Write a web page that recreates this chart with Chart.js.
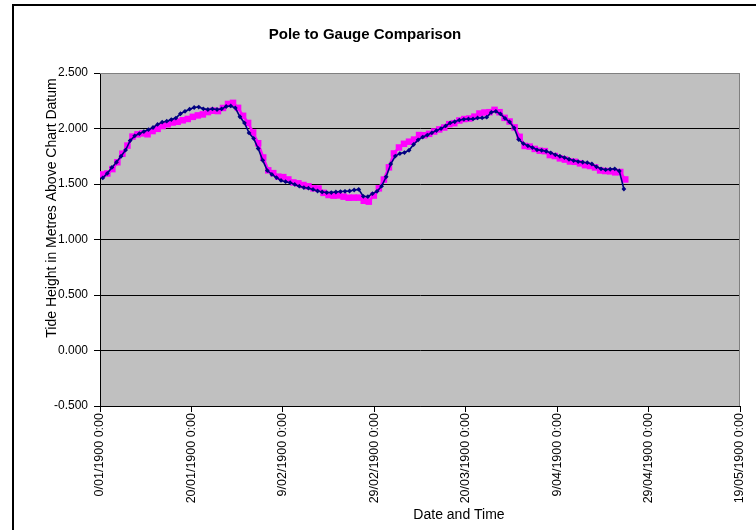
<!DOCTYPE html>
<html>
<head>
<meta charset="utf-8">
<script src="https://cdn.jsdelivr.net/npm/chart.js@4/dist/chart.umd.min.js"></script>
<style>
  html, body { margin: 0; padding: 0; background: #ffffff; }
  #wrap { width: 756px; height: 530px; }
</style>
</head>
<body>
<div id="wrap"><canvas id="tideChart" width="756" height="530"></canvas></div>
<script>
// Text
const chartTitle = 'Pole to Gauge Comparison';
const yAxisTitle = 'Tide Height in Metres Above Chart Datum';
const xAxisTitle = 'Date and Time';

// X axis: Excel serial days, labelled every 20 days
const xTickLabels = [
  '0/01/1900 0:00', '20/01/1900 0:00', '9/02/1900 0:00', '29/02/1900 0:00',
  '20/03/1900 0:00', '9/04/1900 0:00', '29/04/1900 0:00', '19/05/1900 0:00'
];

// Tide pole readings (serial day, metres above chart datum)
const poleDays = [
  0.6, 1.6, 2.6, 3.6, 4.6, 5.6, 6.6, 7.6, 8.6, 9.6,
  10.6, 11.6, 12.6, 13.6, 14.6, 15.6, 16.6, 17.6, 18.6, 19.6,
  20.6, 21.6, 22.6, 23.6, 24.6, 25.6, 26.6, 27.6, 28.6, 29.6,
  30.6, 31.6, 32.6, 33.6, 34.6, 35.6, 36.6, 37.6, 38.6, 39.6,
  40.6, 41.6, 42.6, 43.6, 44.6, 45.6, 46.6, 47.6, 48.6, 49.6,
  50.6, 51.6, 52.6, 53.6, 54.6, 55.6, 56.6, 57.6, 58.6, 59.6,
  60.6, 61.6, 62.6, 63.6, 64.6, 65.6, 66.6, 67.6, 68.6, 69.6,
  70.6, 71.6, 72.6, 73.6, 74.6, 75.6, 76.6, 77.6, 78.6, 79.6,
  80.6, 81.6, 82.6, 83.6, 84.6, 85.6, 86.6, 87.6, 88.6, 89.6,
  90.6, 91.6, 92.6, 93.6, 94.6, 95.6, 96.6, 97.6, 98.6, 99.6,
  100.6, 101.6, 102.6, 103.6, 104.6, 105.6, 106.6, 107.6, 108.6, 109.6,
  110.6, 111.6, 112.6, 113.6, 114.6
];
const poleHeights = [
  1.555, 1.596, 1.649, 1.696, 1.750, 1.806, 1.891, 1.934, 1.953, 1.972,
  1.989, 2.009, 2.037, 2.057, 2.066, 2.080, 2.094, 2.133, 2.155, 2.174,
  2.189, 2.193, 2.177, 2.171, 2.176, 2.171, 2.176, 2.198, 2.203, 2.185,
  2.106, 2.050, 1.960, 1.911, 1.820, 1.713, 1.621, 1.586, 1.558, 1.532,
  1.521, 1.512, 1.496, 1.480, 1.468, 1.462, 1.451, 1.437, 1.428, 1.423,
  1.423, 1.428, 1.432, 1.434, 1.437, 1.446, 1.451, 1.389, 1.386, 1.413,
  1.434, 1.480, 1.565, 1.680, 1.752, 1.774, 1.783, 1.804, 1.856, 1.898,
  1.923, 1.941, 1.961, 1.981, 1.999, 2.023, 2.050, 2.061, 2.076, 2.083,
  2.086, 2.086, 2.095, 2.096, 2.102, 2.146, 2.155, 2.131, 2.092, 2.059,
  2.005, 1.900, 1.864, 1.844, 1.828, 1.808, 1.803, 1.795, 1.781, 1.763,
  1.750, 1.738, 1.723, 1.711, 1.702, 1.696, 1.692, 1.680, 1.655, 1.637,
  1.629, 1.633, 1.637, 1.617, 1.455
];

// Tide gauge record (serial day, metres above chart datum)
const gaugeDays = [
  0.5, 1.6, 2.7, 3.8, 4.9, 6.0, 7.1, 8.2, 9.3, 10.4,
  11.5, 12.6, 13.7, 14.8, 15.9, 17.0, 18.1, 19.2, 20.3, 21.4,
  22.5, 23.6, 24.7, 25.8, 26.9, 28.0, 29.1, 30.2, 31.3, 32.4,
  33.5, 34.6, 35.7, 36.8, 37.9, 39.0, 40.1, 41.2, 42.3, 43.4,
  44.5, 45.6, 46.7, 47.8, 48.9, 50.0, 51.1, 52.2, 53.3, 54.4,
  55.5, 56.6, 57.7, 58.8, 59.9, 61.0, 62.1, 63.2, 64.3, 65.4,
  66.5, 67.6, 68.7, 69.8, 70.9, 72.0, 73.1, 74.2, 75.3, 76.4,
  77.5, 78.6, 79.7, 80.8, 81.9, 83.0, 84.1, 85.2, 86.3, 87.4,
  88.5, 89.6, 90.7, 91.8, 92.9, 94.0, 95.1, 96.2, 97.3, 98.4,
  99.5, 100.6, 101.7, 102.8, 103.9, 105.0, 106.1, 107.2, 108.3, 109.4,
  110.5, 111.6, 112.7, 113.8, 114.9
];
const gaugeHeights = [
  1.586, 1.595, 1.634, 1.696, 1.773, 1.846, 1.927, 1.947, 1.956, 1.948,
  1.977, 1.997, 2.022, 2.038, 2.054, 2.061, 2.074, 2.086, 2.105, 2.118,
  2.127, 2.148, 2.160, 2.157, 2.185, 2.221, 2.231, 2.186, 2.114, 2.050,
  1.964, 1.867, 1.739, 1.623, 1.598, 1.566, 1.562, 1.541, 1.514, 1.506,
  1.491, 1.479, 1.461, 1.459, 1.420, 1.401, 1.395, 1.397, 1.386, 1.376,
  1.377, 1.377, 1.349, 1.341, 1.396, 1.461, 1.540, 1.650, 1.775, 1.829,
  1.862, 1.881, 1.900, 1.941, 1.939, 1.952, 1.973, 1.992, 2.009, 2.039,
  2.048, 2.072, 2.085, 2.090, 2.107, 2.135, 2.144, 2.147, 2.168, 2.147,
  2.096, 2.063, 2.010, 1.925, 1.843, 1.837, 1.816, 1.800, 1.796, 1.761,
  1.752, 1.731, 1.720, 1.703, 1.700, 1.686, 1.670, 1.662, 1.649, 1.622,
  1.617, 1.614, 1.605, 1.608, 1.541
];

const toPoints = (xs, ys) => ys.map((y, i) => ({ x: xs[i], y: y }));

const FONT = '"Liberation Sans", Arial, sans-serif';

// Grey plot area, outer frame and the free-standing titles
const excelFrame = {
  id: 'excelFrame',
  beforeDraw(chart) {
    const { ctx, chartArea: a } = chart;
    ctx.save();
    ctx.fillStyle = '#ffffff';
    ctx.fillRect(0, 0, chart.width, chart.height);
    ctx.fillStyle = '#c0c0c0';
    ctx.fillRect(a.left, a.top, a.right - a.left, a.bottom - a.top);
    ctx.restore();
  },
  beforeDatasetsDraw(chart) {
    const { ctx, chartArea: a } = chart;
    ctx.save();
    ctx.strokeStyle = '#808080';
    ctx.lineWidth = 1;
    ctx.beginPath();
    ctx.moveTo(a.left, a.top + 0.5);
    ctx.lineTo(a.right - 0.5, a.top + 0.5);
    ctx.lineTo(a.right - 0.5, a.bottom);
    ctx.stroke();
    ctx.restore();
  },
  afterDraw(chart) {
    const { ctx } = chart;
    ctx.save();
    // outer chart frame
    ctx.strokeStyle = '#000000';
    ctx.lineWidth = 2;
    ctx.strokeRect(13, 5, 800, 600);
    ctx.fillStyle = '#000000';
    ctx.textAlign = 'center';
    ctx.textBaseline = 'middle';
    ctx.font = 'bold 15px ' + FONT;
    ctx.fillText(chartTitle, 365, 35);
    ctx.font = '14px ' + FONT;
    ctx.fillText(xAxisTitle, 459, 515);
    ctx.translate(52, 208);
    ctx.rotate(-Math.PI / 2);
    ctx.fillText(yAxisTitle, 0, 0);
    ctx.restore();
  }
};

new Chart(document.getElementById('tideChart'), {
  type: 'line',
  data: {
    datasets: [
      {
        label: 'Tide Pole',
        data: toPoints(poleDays, poleHeights),
        order: 0,
        borderColor: '#000080',
        backgroundColor: '#000080',
        borderWidth: 1.6,
        pointStyle: 'rectRot',
        pointRadius: 2.4,
        pointBorderWidth: 0,
        pointBackgroundColor: '#000080',
        tension: 0
      },
      {
        label: 'Tide Gauge',
        data: toPoints(gaugeDays, gaugeHeights),
        order: 1,
        borderColor: '#ff00ff',
        backgroundColor: '#ff00ff',
        borderWidth: 2.6,
        pointStyle: 'rect',
        pointRadius: 4.6,
        pointBorderWidth: 0,
        pointBackgroundColor: '#ff00ff',
        tension: 0
      }
    ]
  },
  options: {
    responsive: false,
    animation: false,
    devicePixelRatio: 1,
    layout: { padding: { top: 73, left: 0, right: 13, bottom: 0 } },
    plugins: {
      legend: { display: false },
      title: { display: false },
      tooltip: { enabled: false }
    },
    scales: {
      x: {
        type: 'linear',
        min: 0,
        max: 140,
        afterFit(scale) { scale.height = 124; },
        border: { color: '#000000', width: 1 },
        grid: { drawOnChartArea: false, drawTicks: true, tickLength: 6, color: '#000000' },
        ticks: {
          stepSize: 20,
          minRotation: 90,
          maxRotation: 90,
          autoSkip: false,
          padding: 1,
          color: '#000000',
          font: { family: FONT, size: 12.5 },
          callback: (v) => xTickLabels[Math.round(v / 20)]
        }
      },
      y: {
        min: -0.5,
        max: 2.5,
        afterFit(scale) { scale.width = 100; },
        border: { color: '#000000', width: 1 },
        grid: {
          color: (c) => (c.tick && c.tick.value === 2.5 ? '#808080' : '#000000'),
          tickColor: '#000000',
          tickLength: 6,
          lineWidth: 1
        },
        ticks: {
          stepSize: 0.5,
          padding: 6,
          color: '#000000',
          font: { family: FONT, size: 12 },
          callback: (v) => v.toFixed(3)
        }
      }
    }
  },
  plugins: [excelFrame]
});
</script>
</body>
</html>
